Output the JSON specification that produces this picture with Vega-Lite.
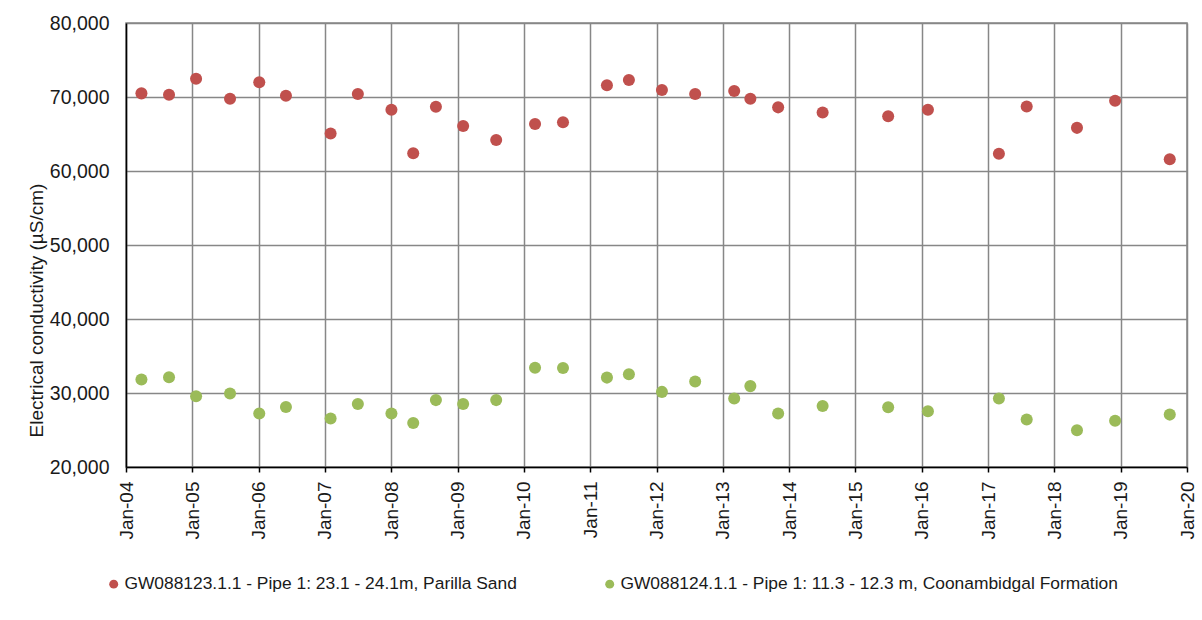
{
  "$schema": "https://vega.github.io/schema/vega-lite/v6.json",
  "autosize": {"type": "none"},
  "width": 1061,
  "height": 444,
  "padding": {"left": 126, "top": 23, "right": 15, "bottom": 153},
  "background": "white",
  "config": {
    "font": "Liberation Sans",
    "view": {"stroke": "#878787", "strokeWidth": 1.5},
    "axis": {"gridColor": "#878787", "gridWidth": 1.5, "gridOpacity": 1, "domainColor": "#000000", "domainWidth": 1.5, "labelColor": "#1a1a1a", "titleColor": "#1a1a1a", "labelFont": "Liberation Sans", "titleFont": "Liberation Sans"}
  },
  "data": {
    "values": [
      {"date": "2004-03-26", "ec": 70490, "series": "GW088123.1.1 - Pipe 1: 23.1 - 24.1m, Parilla Sand"},
      {"date": "2004-08-25", "ec": 70310, "series": "GW088123.1.1 - Pipe 1: 23.1 - 24.1m, Parilla Sand"},
      {"date": "2005-01-21", "ec": 72460, "series": "GW088123.1.1 - Pipe 1: 23.1 - 24.1m, Parilla Sand"},
      {"date": "2005-07-27", "ec": 69770, "series": "GW088123.1.1 - Pipe 1: 23.1 - 24.1m, Parilla Sand"},
      {"date": "2006-01-04", "ec": 71980, "series": "GW088123.1.1 - Pipe 1: 23.1 - 24.1m, Parilla Sand"},
      {"date": "2006-05-31", "ec": 70170, "series": "GW088123.1.1 - Pipe 1: 23.1 - 24.1m, Parilla Sand"},
      {"date": "2007-02-01", "ec": 65070, "series": "GW088123.1.1 - Pipe 1: 23.1 - 24.1m, Parilla Sand"},
      {"date": "2007-07-01", "ec": 70400, "series": "GW088123.1.1 - Pipe 1: 23.1 - 24.1m, Parilla Sand"},
      {"date": "2008-01-02", "ec": 68270, "series": "GW088123.1.1 - Pipe 1: 23.1 - 24.1m, Parilla Sand"},
      {"date": "2008-05-01", "ec": 62390, "series": "GW088123.1.1 - Pipe 1: 23.1 - 24.1m, Parilla Sand"},
      {"date": "2008-09-03", "ec": 68690, "series": "GW088123.1.1 - Pipe 1: 23.1 - 24.1m, Parilla Sand"},
      {"date": "2009-01-31", "ec": 66080, "series": "GW088123.1.1 - Pipe 1: 23.1 - 24.1m, Parilla Sand"},
      {"date": "2009-08-01", "ec": 64190, "series": "GW088123.1.1 - Pipe 1: 23.1 - 24.1m, Parilla Sand"},
      {"date": "2010-03-03", "ec": 66350, "series": "GW088123.1.1 - Pipe 1: 23.1 - 24.1m, Parilla Sand"},
      {"date": "2010-08-04", "ec": 66580, "series": "GW088123.1.1 - Pipe 1: 23.1 - 24.1m, Parilla Sand"},
      {"date": "2011-04-03", "ec": 71580, "series": "GW088123.1.1 - Pipe 1: 23.1 - 24.1m, Parilla Sand"},
      {"date": "2011-08-02", "ec": 72300, "series": "GW088123.1.1 - Pipe 1: 23.1 - 24.1m, Parilla Sand"},
      {"date": "2012-01-31", "ec": 70950, "series": "GW088123.1.1 - Pipe 1: 23.1 - 24.1m, Parilla Sand"},
      {"date": "2012-08-01", "ec": 70400, "series": "GW088123.1.1 - Pipe 1: 23.1 - 24.1m, Parilla Sand"},
      {"date": "2013-03-04", "ec": 70810, "series": "GW088123.1.1 - Pipe 1: 23.1 - 24.1m, Parilla Sand"},
      {"date": "2013-06-01", "ec": 69770, "series": "GW088123.1.1 - Pipe 1: 23.1 - 24.1m, Parilla Sand"},
      {"date": "2013-11-01", "ec": 68600, "series": "GW088123.1.1 - Pipe 1: 23.1 - 24.1m, Parilla Sand"},
      {"date": "2014-07-04", "ec": 67900, "series": "GW088123.1.1 - Pipe 1: 23.1 - 24.1m, Parilla Sand"},
      {"date": "2015-06-30", "ec": 67400, "series": "GW088123.1.1 - Pipe 1: 23.1 - 24.1m, Parilla Sand"},
      {"date": "2016-02-04", "ec": 68270, "series": "GW088123.1.1 - Pipe 1: 23.1 - 24.1m, Parilla Sand"},
      {"date": "2017-03-01", "ec": 62320, "series": "GW088123.1.1 - Pipe 1: 23.1 - 24.1m, Parilla Sand"},
      {"date": "2017-08-01", "ec": 68710, "series": "GW088123.1.1 - Pipe 1: 23.1 - 24.1m, Parilla Sand"},
      {"date": "2018-05-05", "ec": 65830, "series": "GW088123.1.1 - Pipe 1: 23.1 - 24.1m, Parilla Sand"},
      {"date": "2018-12-01", "ec": 69490, "series": "GW088123.1.1 - Pipe 1: 23.1 - 24.1m, Parilla Sand"},
      {"date": "2019-09-28", "ec": 61590, "series": "GW088123.1.1 - Pipe 1: 23.1 - 24.1m, Parilla Sand"},
      {"date": "2004-03-26", "ec": 31830, "series": "GW088124.1.1 - Pipe 1: 11.3 - 12.3 m, Coonambidgal Formation"},
      {"date": "2004-08-25", "ec": 32140, "series": "GW088124.1.1 - Pipe 1: 11.3 - 12.3 m, Coonambidgal Formation"},
      {"date": "2005-01-21", "ec": 29570, "series": "GW088124.1.1 - Pipe 1: 11.3 - 12.3 m, Coonambidgal Formation"},
      {"date": "2005-07-27", "ec": 29930, "series": "GW088124.1.1 - Pipe 1: 11.3 - 12.3 m, Coonambidgal Formation"},
      {"date": "2006-01-04", "ec": 27220, "series": "GW088124.1.1 - Pipe 1: 11.3 - 12.3 m, Coonambidgal Formation"},
      {"date": "2006-05-31", "ec": 28120, "series": "GW088124.1.1 - Pipe 1: 11.3 - 12.3 m, Coonambidgal Formation"},
      {"date": "2007-02-01", "ec": 26560, "series": "GW088124.1.1 - Pipe 1: 11.3 - 12.3 m, Coonambidgal Formation"},
      {"date": "2007-07-01", "ec": 28520, "series": "GW088124.1.1 - Pipe 1: 11.3 - 12.3 m, Coonambidgal Formation"},
      {"date": "2008-01-02", "ec": 27220, "series": "GW088124.1.1 - Pipe 1: 11.3 - 12.3 m, Coonambidgal Formation"},
      {"date": "2008-05-01", "ec": 25950, "series": "GW088124.1.1 - Pipe 1: 11.3 - 12.3 m, Coonambidgal Formation"},
      {"date": "2008-09-03", "ec": 29040, "series": "GW088124.1.1 - Pipe 1: 11.3 - 12.3 m, Coonambidgal Formation"},
      {"date": "2009-01-31", "ec": 28500, "series": "GW088124.1.1 - Pipe 1: 11.3 - 12.3 m, Coonambidgal Formation"},
      {"date": "2009-08-01", "ec": 29040, "series": "GW088124.1.1 - Pipe 1: 11.3 - 12.3 m, Coonambidgal Formation"},
      {"date": "2010-03-03", "ec": 33420, "series": "GW088124.1.1 - Pipe 1: 11.3 - 12.3 m, Coonambidgal Formation"},
      {"date": "2010-08-04", "ec": 33380, "series": "GW088124.1.1 - Pipe 1: 11.3 - 12.3 m, Coonambidgal Formation"},
      {"date": "2011-04-03", "ec": 32080, "series": "GW088124.1.1 - Pipe 1: 11.3 - 12.3 m, Coonambidgal Formation"},
      {"date": "2011-08-02", "ec": 32530, "series": "GW088124.1.1 - Pipe 1: 11.3 - 12.3 m, Coonambidgal Formation"},
      {"date": "2012-01-31", "ec": 30150, "series": "GW088124.1.1 - Pipe 1: 11.3 - 12.3 m, Coonambidgal Formation"},
      {"date": "2012-08-01", "ec": 31560, "series": "GW088124.1.1 - Pipe 1: 11.3 - 12.3 m, Coonambidgal Formation"},
      {"date": "2013-03-04", "ec": 29270, "series": "GW088124.1.1 - Pipe 1: 11.3 - 12.3 m, Coonambidgal Formation"},
      {"date": "2013-06-01", "ec": 30930, "series": "GW088124.1.1 - Pipe 1: 11.3 - 12.3 m, Coonambidgal Formation"},
      {"date": "2013-11-01", "ec": 27220, "series": "GW088124.1.1 - Pipe 1: 11.3 - 12.3 m, Coonambidgal Formation"},
      {"date": "2014-07-04", "ec": 28250, "series": "GW088124.1.1 - Pipe 1: 11.3 - 12.3 m, Coonambidgal Formation"},
      {"date": "2015-06-30", "ec": 28070, "series": "GW088124.1.1 - Pipe 1: 11.3 - 12.3 m, Coonambidgal Formation"},
      {"date": "2016-02-04", "ec": 27530, "series": "GW088124.1.1 - Pipe 1: 11.3 - 12.3 m, Coonambidgal Formation"},
      {"date": "2017-03-01", "ec": 29270, "series": "GW088124.1.1 - Pipe 1: 11.3 - 12.3 m, Coonambidgal Formation"},
      {"date": "2017-08-01", "ec": 26420, "series": "GW088124.1.1 - Pipe 1: 11.3 - 12.3 m, Coonambidgal Formation"},
      {"date": "2018-05-05", "ec": 24980, "series": "GW088124.1.1 - Pipe 1: 11.3 - 12.3 m, Coonambidgal Formation"},
      {"date": "2018-12-01", "ec": 26240, "series": "GW088124.1.1 - Pipe 1: 11.3 - 12.3 m, Coonambidgal Formation"},
      {"date": "2019-09-28", "ec": 27080, "series": "GW088124.1.1 - Pipe 1: 11.3 - 12.3 m, Coonambidgal Formation"}
    ]
  },
  "mark": {"type": "circle", "size": 145, "opacity": 1},
  "encoding": {
    "x": {
      "field": "date",
      "type": "temporal",
      "scale": {"type": "utc", "domain": ["2004-01-01", "2020-01-01"], "nice": false},
      "axis": {
        "title": null,
        "labelExpr": "'Jan-' + utcFormat(datum.value, '%y')",
        "tickCount": {"interval": "year", "step": 1},
        "labelAngle": -90,
        "labelAlign": "right",
        "labelBaseline": "middle",
        "labelFontSize": 19,
        "labelPadding": 9,
        "tickSize": 5,
        "tickColor": "#000000",
        "tickWidth": 1.5,
        "grid": true,
        "labelOverlap": false
      }
    },
    "y": {
      "field": "ec",
      "type": "quantitative",
      "scale": {"domain": [20000, 80000], "nice": false, "zero": false},
      "axis": {
        "title": "Electrical conductivity (µS/cm)",
        "values": [20000, 30000, 40000, 50000, 60000, 70000, 80000],
        "format": ",d",
        "ticks": false,
        "labelFontSize": 19.5,
        "labelPadding": 17,
        "titleFontSize": 19,
        "titleFontWeight": "normal",
        "titleX": -90,
        "titleY": 287,
        "titleBaseline": "middle",
        "titleAngle": -90,
        "grid": true
      }
    },
    "color": {
      "field": "series",
      "type": "nominal",
      "scale": {
        "domain": ["GW088123.1.1 - Pipe 1: 23.1 - 24.1m, Parilla Sand", "GW088124.1.1 - Pipe 1: 11.3 - 12.3 m, Coonambidgal Formation"],
        "range": ["#C0504D", "#9BBB59"]
      },
      "legend": {
        "title": null,
        "orient": "none",
        "direction": "horizontal",
        "legendX": -21,
        "legendY": 552,
        "padding": 0,
        "symbolType": "circle",
        "symbolSize": 80,
        "symbolOpacity": 1,
        "labelFontSize": 17.4,
        "labelLimit": 800,
        "labelOffset": 2,
        "columnPadding": 84,
        "labelColor": "#1a1a1a"
      }
    }
  }
}
